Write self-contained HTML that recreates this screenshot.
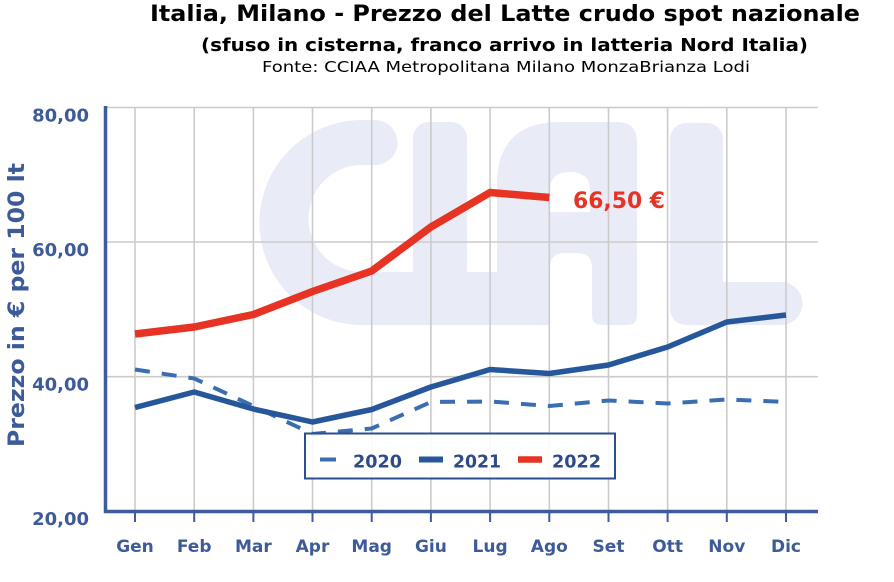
<!DOCTYPE html>
<html><head><meta charset="utf-8">
<style>
html,body{margin:0;padding:0;background:#fff;}
svg{display:block;}
text{font-family:"DejaVu Sans","Liberation Sans",sans-serif;}
</style></head>
<body>
<svg width="894" height="582" viewBox="0 0 894 582" xmlns="http://www.w3.org/2000/svg">
<rect width="894" height="582" fill="#fff"/>
<!-- titles -->
<text x="150" y="21" font-size="22" font-weight="bold" fill="#000" textLength="710" lengthAdjust="spacingAndGlyphs">Italia, Milano - Prezzo del Latte crudo spot nazionale</text>
<text x="201" y="51" font-size="18" font-weight="bold" fill="#000" textLength="607" lengthAdjust="spacingAndGlyphs">(sfuso in cisterna, franco arrivo in latteria Nord Italia)</text>
<text x="262" y="72" font-size="15" fill="#000" textLength="488" lengthAdjust="spacingAndGlyphs">Fonte: CCIAA Metropolitana Milano MonzaBrianza Lodi</text>

<!-- watermark CIAL -->
<g fill="#e9ecf7">
  <path d="M375 120 L362 120 A102.5 102.5 0 0 0 362 325 L420 325 L420 272 L362 272 A53.5 53.5 0 0 1 362 165 L375 165 A22.5 22.5 0 0 0 375 120 Z"/>
  <rect x="413" y="122" width="54" height="203" rx="16"/>
  <rect x="413" y="200" width="54" height="125"/>
  <rect x="460" y="272" width="60" height="53"/>
  <path d="M497 325 L497 185 Q497 122 560 122 L617 122 Q637 122 637 142 L637 315 Q637 325 627 325 L602 325 Q592 325 592 315 L592 268 Q592 253 577 253 L565 253 Q550 253 550 268 L550 325 Z"/>
  <rect x="670" y="123" width="53" height="202" rx="16"/>
  <path d="M690 282 L781 282 A21.5 21.5 0 0 1 781 325 L690 325 Z"/>
</g>
<path d="M550 212 L590 212 L590 190 Q590 172 570 172 Q550 172 550 190 Z" fill="#fff"/>

<!-- gridlines -->
<g stroke="#cbcbcb" stroke-width="1.6">
  <line x1="106" y1="107.5" x2="818" y2="107.5"/>
  <line x1="106" y1="242" x2="818" y2="242"/>
  <line x1="106" y1="376.7" x2="818" y2="376.7"/>
  <line x1="135" y1="107" x2="135" y2="511"/>
  <line x1="194.2" y1="107" x2="194.2" y2="511"/>
  <line x1="253.4" y1="107" x2="253.4" y2="511"/>
  <line x1="312.5" y1="107" x2="312.5" y2="511"/>
  <line x1="371.7" y1="107" x2="371.7" y2="511"/>
  <line x1="430.9" y1="107" x2="430.9" y2="511"/>
  <line x1="490.1" y1="107" x2="490.1" y2="511"/>
  <line x1="549.3" y1="107" x2="549.3" y2="511"/>
  <line x1="608.5" y1="107" x2="608.5" y2="511"/>
  <line x1="667.6" y1="107" x2="667.6" y2="511"/>
  <line x1="726.8" y1="107" x2="726.8" y2="511"/>
  <line x1="786" y1="107" x2="786" y2="511"/>
</g>

<!-- axes -->
<g stroke="#3e5b9b">
  <line x1="105.5" y1="106" x2="105.5" y2="513" stroke-width="3.5"/>
  <line x1="104" y1="511.5" x2="818" y2="511.5" stroke-width="3.5"/>
  <g stroke-width="2">
    <line x1="135" y1="513" x2="135" y2="522"/>
    <line x1="194.2" y1="513" x2="194.2" y2="522"/>
    <line x1="253.4" y1="513" x2="253.4" y2="522"/>
    <line x1="312.5" y1="513" x2="312.5" y2="522"/>
    <line x1="371.7" y1="513" x2="371.7" y2="522"/>
    <line x1="430.9" y1="513" x2="430.9" y2="522"/>
    <line x1="490.1" y1="513" x2="490.1" y2="522"/>
    <line x1="549.3" y1="513" x2="549.3" y2="522"/>
    <line x1="608.5" y1="513" x2="608.5" y2="522"/>
    <line x1="667.6" y1="513" x2="667.6" y2="522"/>
    <line x1="726.8" y1="513" x2="726.8" y2="522"/>
    <line x1="786" y1="513" x2="786" y2="522"/>
  </g>
</g>

<!-- y labels -->
<g font-size="18" font-weight="bold" fill="#3d5a99" text-anchor="end">
  <text x="89" y="121.5">80,00</text>
  <text x="89" y="256">60,00</text>
  <text x="89" y="390.5">40,00</text>
  <text x="89" y="525">20,00</text>
</g>
<!-- y title -->
<text transform="translate(24,305) rotate(-90)" text-anchor="middle" font-size="22" font-weight="bold" fill="#3d5a99" textLength="284" lengthAdjust="spacingAndGlyphs">Prezzo in € per 100 lt</text>

<!-- x labels -->
<g font-size="17" font-weight="bold" fill="#3d5a99" text-anchor="middle">
  <text x="135" y="552">Gen</text>
  <text x="194.2" y="552">Feb</text>
  <text x="253.4" y="552">Mar</text>
  <text x="312.5" y="552">Apr</text>
  <text x="371.7" y="552">Mag</text>
  <text x="430.9" y="552">Giu</text>
  <text x="490.1" y="552">Lug</text>
  <text x="549.3" y="552">Ago</text>
  <text x="608.5" y="552">Set</text>
  <text x="667.6" y="552">Ott</text>
  <text x="726.8" y="552">Nov</text>
  <text x="786" y="552">Dic</text>
</g>

<!-- series -->
<polyline fill="none" stroke="#3b6db1" stroke-width="4" stroke-dasharray="15 12" stroke-linejoin="round"
  points="135,369.5 194.2,378.5 253.4,406 312.5,434 371.7,428.5 430.9,402 490.1,401.5 549.3,406 608.5,400.5 667.6,403.5 726.8,399.5 786,402"/>
<polyline fill="none" stroke="#27579b" stroke-width="5.5" stroke-linejoin="round"
  points="135,407.5 194.2,392 253.4,409 312.5,422 371.7,409.5 430.9,387 490.1,369.5 549.3,373.5 608.5,365 667.6,347 726.8,322 786,315"/>
<polyline fill="none" stroke="#e63323" stroke-width="7.5" stroke-linejoin="round"
  points="135,334 194.2,327 253.4,314.5 312.5,291.5 371.7,271 430.9,227 490.1,192.5 549.3,197.5"/>

<text x="573" y="208" font-size="22" font-weight="bold" fill="#e63323" textLength="92" lengthAdjust="spacingAndGlyphs">66,50 €</text>

<!-- legend -->
<rect x="305" y="433.5" width="310" height="45" fill="#fff" fill-opacity="0.88" stroke="#2b4f8f" stroke-width="2"/>
<line x1="320" y1="459.5" x2="336" y2="459.5" stroke="#3b6db1" stroke-width="4"/>
<line x1="419" y1="459.5" x2="443" y2="459.5" stroke="#27579b" stroke-width="6"/>
<line x1="518" y1="459.5" x2="542" y2="459.5" stroke="#e63323" stroke-width="6.5"/>
<g font-size="17.5" font-weight="bold" fill="#2d4b8b">
  <text x="353" y="467.5" textLength="49" lengthAdjust="spacingAndGlyphs">2020</text>
  <text x="453" y="467.5" textLength="48" lengthAdjust="spacingAndGlyphs">2021</text>
  <text x="552" y="467.5" textLength="49" lengthAdjust="spacingAndGlyphs">2022</text>
</g>
</svg>
</body></html>
